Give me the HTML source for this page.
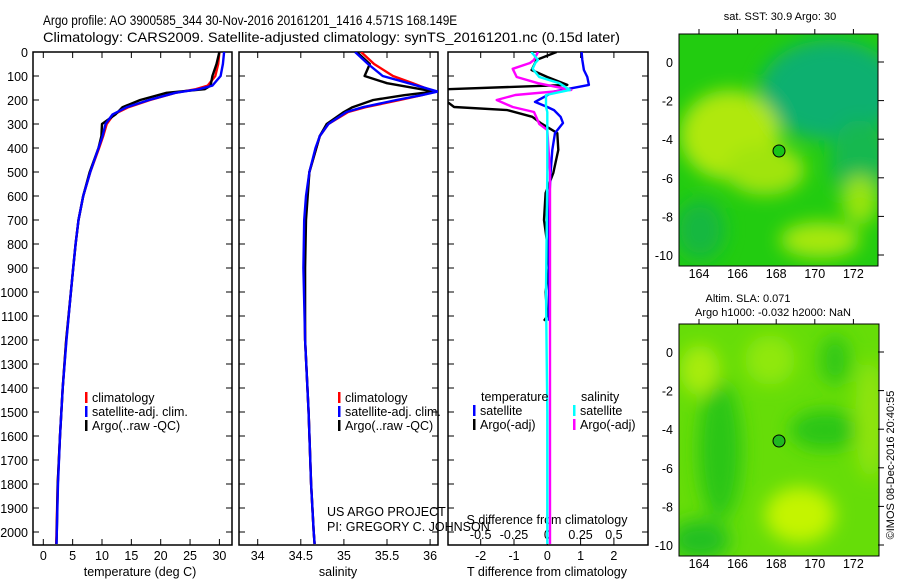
<!DOCTYPE html>
<html><head><meta charset="utf-8"><style>
html,body{margin:0;padding:0;background:#fff;}
svg{display:block;font-family:"Liberation Sans",sans-serif;}
text{font-size:12.5px;fill:#000;}
</style></head><body>
<svg id="c" width="900" height="580" viewBox="0 0 900 580" xmlns="http://www.w3.org/2000/svg">
<defs>
<clipPath id="cp1"><rect x="33" y="52" width="199" height="493"/></clipPath>
<clipPath id="cp2"><rect x="239" y="52" width="199" height="493"/></clipPath>
<clipPath id="cp3"><rect x="448" y="52" width="200" height="493"/></clipPath>
<clipPath id="cm1"><rect x="679" y="34" width="199" height="232"/></clipPath>
<clipPath id="cm2"><rect x="679" y="324" width="200" height="232"/></clipPath>
<filter id="bl" x="-50%" y="-50%" width="200%" height="200%"><feGaussianBlur stdDeviation="9"/></filter>
</defs>
<g transform="translate(43,25) scale(0.845,1)"><text x="0" y="0" style="font-size:14px">Argo profile: AO 3900585_344 30-Nov-2016 20161201_1416 4.571S 168.149E</text></g>
<text x="43" y="42" textLength="577" lengthAdjust="spacingAndGlyphs" style="font-size:14px">Climatology: CARS2009. Satellite-adjusted climatology: synTS_20161201.nc (0.15d later)</text>

<!-- maps -->
<g clip-path="url(#cm1)">
<rect x="679" y="34" width="199" height="232" fill="#22cc10"/>
<g filter="url(#bl)">
<ellipse cx="830" cy="90" rx="70" ry="50" fill="#10b070"/>
<ellipse cx="860" cy="160" rx="30" ry="40" fill="#14b850"/>
<ellipse cx="730" cy="135" rx="50" ry="45" fill="#b0e810"/>
<ellipse cx="765" cy="170" rx="40" ry="25" fill="#a0e410"/>
<ellipse cx="820" cy="240" rx="40" ry="18" fill="#a8e810"/>
<ellipse cx="860" cy="200" rx="18" ry="25" fill="#98e410"/>
<ellipse cx="700" cy="230" rx="25" ry="30" fill="#18b840"/>
</g>
</g>
<rect x="679" y="34" width="199" height="232" fill="none" stroke="#000"/>
<circle cx="779" cy="151" r="6" fill="#18c418" stroke="#000"/>
<g clip-path="url(#cm2)">
<rect x="679" y="324" width="200" height="232" fill="#66dd08"/>
<g filter="url(#bl)">
<ellipse cx="720" cy="450" rx="22" ry="70" fill="#2cc614"/>
<ellipse cx="825" cy="430" rx="35" ry="20" fill="#2cc614"/>
<ellipse cx="835" cy="360" rx="15" ry="25" fill="#30c814"/>
<ellipse cx="800" cy="515" rx="35" ry="28" fill="#c4f400"/>
<ellipse cx="700" cy="370" rx="20" ry="25" fill="#a8ec08"/>
<ellipse cx="770" cy="360" rx="25" ry="25" fill="#90e808"/>
<ellipse cx="700" cy="540" rx="30" ry="20" fill="#24c020"/>
<ellipse cx="870" cy="420" rx="15" ry="60" fill="#90e408"/>
</g>
</g>
<rect x="679" y="324" width="200" height="232" fill="none" stroke="#000"/>
<circle cx="779" cy="441" r="6" fill="#20b820" stroke="#000"/>
<text x="780" y="20" text-anchor="middle" style="font-size:11px">sat. SST: 30.9 Argo: 30</text>
<text x="748" y="302" text-anchor="middle" style="font-size:11px">Altim. SLA: 0.071</text>
<text x="773" y="316" text-anchor="middle" style="font-size:11px">Argo h1000: -0.032 h2000: NaN</text>
<text transform="translate(894,465) rotate(-90)" text-anchor="middle" style="font-size:11px">©IMOS 08-Dec-2016 20:40:55</text>
<g id="maxes"></g>

<g id="plots"></g>
<text x="327" y="516">US ARGO PROJECT</text>
<text x="327" y="531">PI: GREGORY C. JOHNSON</text>
</svg>
<script>
// ---- data ----
const tDepth = [0,50,100,140,155,170,200,230,260,300,350,400,500,600,700,800,900,1000,1200,1400,1600,1800,2000,2050];
const tClim  = [30,29.8,29.3,28,26,22.5,18.2,14.5,12.0,10.8,10.2,9.5,8.0,6.8,6.0,5.5,5.1,4.7,3.9,3.3,2.85,2.45,2.25,2.2];
const tSat   = [30.8,30.6,30.2,28.8,26.5,22.5,18,14.2,11.8,10.6,10.1,9.4,8.0,6.8,6.0,5.5,5.1,4.7,3.95,3.3,2.85,2.5,2.3,2.25];
const tArgo  = [30,29.5,28.8,28.5,27.5,21,16.5,13.5,12.3,10,9.9,9.4,7.9,6.8,6.0,5.5,5.1,4.7,3.9,3.3,2.85,2.45,2.3,2.25];
const sDepth = [0,50,100,130,165,180,200,230,250,300,350,400,500,600,700,900,1200,1500,1800,2000,2050];
const sClim  = [35.2,35.35,35.57,35.8,36.05,35.9,35.65,35.25,35.05,34.82,34.72,34.68,34.6,34.57,34.55,34.54,34.55,34.59,34.62,34.65,34.66];
const sSat   = [35.13,35.28,35.45,35.75,36.09,35.9,35.61,35.22,35.03,34.82,34.72,34.67,34.6,34.56,34.54,34.53,34.55,34.59,34.62,34.65,34.66];
const sArgo  = [35.15,35.3,35.24,35.5,36.05,35.7,35.34,35.1,35.0,34.8,34.72,34.68,34.6,34.58,34.56,34.55,34.55,34.59,34.62,34.65,34.66];
const dDepth = [0,33,75,104,137,155,165,208,229,242,270,296,338,408,504,588,700,800,900,1000,1100,1120];
const dTSat  = [1.03,1.05,1.1,1.2,1.25,0.58,0.2,-0.37,0.0,0.2,0.4,0.47,0.23,0.15,0.1,0.07,0.05,0.05,0.05,0.05,0.05,0.05];
const dTArgo = [0.28,-0.32,-0.47,0,0.6,-3,-3,-3,-2.8,-1.2,-0.45,-0.2,0.3,0.33,0.18,-0.05,-0.1,0.0,0.05,-0.05,0.0,-0.1];
const sdDepth = [0,33,46,70,104,130,158,179,200,229,250,300,325,500,1000,1500,2050];
const dSSat  = [-0.12,-0.07,-0.09,-0.11,-0.06,0.09,0.17,-0.01,-0.01,-0.01,0.0,0.0,0.0,0.0,-0.01,0.0,0.0];
const dSArgo = [-0.07,-0.1,-0.13,-0.26,-0.23,-0.07,0.18,-0.24,-0.38,-0.26,-0.1,-0.06,0.0,0.02,0.02,0.02,0.02];
const depthTicks = [0,100,200,300,400,500,600,700,800,900,1000,1100,1200,1300,1400,1500,1600,1700,1800,1900,2000];
const tTicks = [0,5,10,15,20,25,30];
const sTicks = [34,34.5,35,35.5,36];
const sTickLabels = ["34","34.5","35","35.5","36"];
const dTTicks = [-2,-1,0,1,2];
const dSTicks = [-0.5,-0.25,0,0.25,0.5];
const dSTickLabels = ["-0.5","-0.25","0","0.25","0.5"];
const latTicks = [0,-2,-4,-6,-8,-10];
const lonTicks = [164,166,168,170,172];

// ---- axes ----
const yD = d => 52 + d*0.24;
const xT = v => 43.3 + v*5.87;
const xS = v => 257.7 + (v-34)*86.2;
const xDT = v => 547.3 + v*33.3;
const xDS = v => 547.3 + v*133.2;
const lonX = v => 699 + (v-164)*19.3;
const lat1Y = v => 62 - v*19.3;
const lat2Y = v => 352 - v*19.3;

const NS="http://www.w3.org/2000/svg";
const plots=document.getElementById('plots');
function mk(tag,attrs,parent){const e=document.createElementNS(NS,tag);for(const k in attrs)e.setAttribute(k,attrs[k]);(parent||plots).appendChild(e);return e;}
function txt(x,y,s,anchor,parent){const e=mk('text',{x:x,y:y,'text-anchor':anchor||'start'},parent);e.textContent=s;return e;}

const panels=[{x:33,w:199,cp:'cp1',n:'temperature'},{x:239,w:199,cp:'cp2',n:'salinity'},{x:448,w:200,cp:'cp3',n:'difference'}];
panels.forEach(p=>{
  const r=mk('rect',{x:p.x,y:52,width:p.w,height:493,fill:'#fff',stroke:'#000','stroke-width':1.5});
  
  
  depthTicks.forEach(d=>{
    const t1=mk('line',{x1:p.x,x2:p.x+6,y1:yD(d),y2:yD(d),stroke:'#000'});
    
    
    const t2=mk('line',{x1:p.x+p.w-6,x2:p.x+p.w,y1:yD(d),y2:yD(d),stroke:'#000'});
    
    
  });
});
depthTicks.forEach(d=>{
  const e=txt(28,yD(d)+5,String(d),'end');
  
  
});
function xticks(vals,fx,labels,ly){
  vals.forEach((v,i)=>{
    const a=mk('line',{x1:fx(v),x2:fx(v),y1:52,y2:58,stroke:'#000'});
    
    
    const b=mk('line',{x1:fx(v),x2:fx(v),y1:539,y2:545,stroke:'#000'});
    
    
    if(labels){const t=txt(fx(v),ly,labels[i],'middle');
      
      }
  });
}
xticks(tTicks,xT,tTicks.map(String),560);
xticks(sTicks,xS,sTickLabels,560);
xticks(dTTicks,xDT,dTTicks.map(String),560);
dSTicks.forEach((v,i)=>{const t=txt(xDS(v),539,dSTickLabels[i],'middle');
  
  });
let e;
e=txt(140,576,'temperature (deg C)','middle');
e=txt(338,576,'salinity','middle');
e=txt(547,576,'T difference from climatology','middle');
e=txt(547,524,'S difference from climatology','middle');

function line(depths,vals,fx,fy,color,cp,name){
  const pts=depths.map((d,i)=>fx(vals[i]).toFixed(1)+','+fy(d).toFixed(1)).join(' ');
  const pl=mk('polyline',{points:pts,fill:'none',stroke:color,'stroke-width':2.4,'clip-path':'url(#'+cp+')','stroke-linejoin':'round'});
  
  
}
line(tDepth,tClim,xT,yD,'#f00','cp1','temp-climatology-line');
line(tDepth,tArgo,xT,yD,'#000','cp1','temp-argo-line');
line(tDepth,tSat,xT,yD,'#00f','cp1','temp-satellite-line');
line(sDepth,sClim,xS,yD,'#f00','cp2','sal-climatology-line');
line(sDepth,sArgo,xS,yD,'#000','cp2','sal-argo-line');
line(sDepth,sSat,xS,yD,'#00f','cp2','sal-satellite-line');
line(dDepth,dTArgo,xDT,yD,'#000','cp3','t-diff-argo-line');
line(dDepth,dTSat,xDT,yD,'#00f','cp3','t-diff-satellite-line');
line(sdDepth,dSArgo,xDS,yD,'#f0f','cp3','s-diff-argo-line');
line(sdDepth,dSSat,xDS,yD,'#0ff','cp3','s-diff-satellite-line');

function legend(x,y,color,label){
  const r=mk('rect',{x:x,y:y-10,width:2.5,height:11,fill:color});
  
  
  const t=txt(x+7,y,label);
  
  
}
[85,338].forEach(x=>{
  legend(x,402,'#f00','climatology');
  legend(x,416,'#00f','satellite-adj. clim.');
  legend(x,430,'#000','Argo(..raw -QC)');
});
e=txt(481,401,'temperature');
e=txt(581,401,'salinity');
legend(473,415,'#00f','satellite');
legend(473,429,'#000','Argo(-adj)');
legend(573,415,'#0ff','satellite');
legend(573,429,'#f0f','Argo(-adj)');

// map axes
const maxes=document.getElementById('maxes');
[[lat1Y,34,266,278],[lat2Y,324,556,568]].forEach(([fy,top,bot,ly])=>{
  latTicks.forEach(v=>{
    const t=txt(673,fy(v)+5,String(v),'end',maxes);
    
    
    const a=mk('line',{x1:878,x2:884,y1:fy(v),y2:fy(v),stroke:'#000'},maxes);
    
    
  });
  lonTicks.forEach(v=>{
    const t=txt(lonX(v),ly,String(v),'middle',maxes);
    
    
    const a=mk('line',{x1:lonX(v),x2:lonX(v),y1:top-5,y2:top,stroke:'#000'},maxes);
    
    
  });
});
</script>
</body></html>
